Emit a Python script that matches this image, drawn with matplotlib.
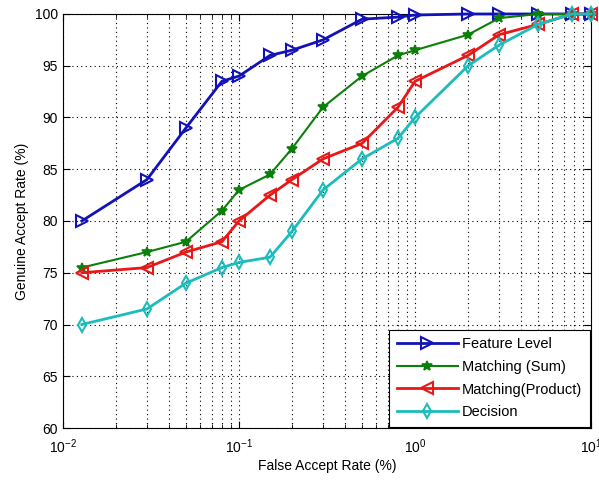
import numpy as np
import matplotlib
matplotlib.use("Agg")
import matplotlib.pyplot as plt
from matplotlib.ticker import LogLocator, FixedLocator, NullFormatter

plt.rcParams['font.family'] = ['Liberation Sans', 'DejaVu Sans']

# False accept rate (%)
far = [0.0128, 0.03, 0.05, 0.08, 0.1, 0.15, 0.2, 0.3, 0.5, 0.8, 1.0, 2, 3, 5, 7.8, 10]

# Genuine accept rate (%)
feature_level = [80, 84, 89, 93.5, 94, 96, 96.5, 97.5, 99.5, 99.7, 99.9, 100, 100, 100, 100, 100]
matching_sum = [75.5, 77, 78, 81, 83, 84.5, 87, 91, 94, 96, 96.5, 98, 99.6, 100, 100, 100]
matching_product = [75, 75.5, 77, 78, 80, 82.5, 84, 86, 87.5, 91, 93.5, 96, 98, 99, 100, 100]
decision = [70, 71.5, 74, 75.5, 76, 76.5, 79, 83, 86, 88, 90, 95, 97, 99, 100, 100]

labels = ['Feature Level', 'Matching (Sum)', 'Matching(Product)', 'Decision']

fig = plt.figure(figsize=(5.99, 4.82), dpi=100)
ax = fig.add_axes([0.105, 0.112, 0.882, 0.859])

ax.plot(far, feature_level, color='#1212b8', lw=2, marker='>', ms=8,
        mfc='none', mew=1.5, label=labels[0], clip_on=False, zorder=5)
ax.plot(far, matching_sum, color='#0a800a', lw=1.5, marker='*', ms=7,
        mew=1.2, label=labels[1], clip_on=False, zorder=5)
ax.plot(far, matching_product, color='#e81818', lw=2, marker='<', ms=8,
        mfc='none', mew=1.5, label=labels[2], clip_on=False, zorder=5)
ax.plot(far, decision, color='#1cbcbc', lw=2, marker='d', ms=7,
        mfc='none', mew=1.5, label=labels[3], clip_on=False, zorder=5)

ax.set_xscale('log')
ax.set_xlim(1e-2, 1e1)
ax.set_ylim(60, 100)
ax.yaxis.set_major_locator(FixedLocator(np.arange(60, 101, 5)))
ax.xaxis.set_major_locator(LogLocator(base=10, numticks=10))
ax.xaxis.set_minor_locator(LogLocator(base=10, subs=np.arange(2, 10), numticks=20))
ax.xaxis.set_minor_formatter(NullFormatter())

ax.grid(True, which='major', color='black', linestyle=(0, (1, 3)), lw=0.8)
ax.grid(True, which='minor', axis='x', color='black', linestyle=(0, (1, 3)), lw=0.8)
ax.tick_params(which='both', direction='in', top=True, right=True, labelsize=10)
ax.tick_params(which='major', length=5)
ax.tick_params(which='minor', length=3)
ax.tick_params(axis='x', which='major', pad=7)

ax.set_xlabel('False Accept Rate (%)', fontsize=10, labelpad=2)
ax.set_ylabel('Genuine Accept Rate (%)', fontsize=10)

leg = ax.legend(loc='lower right', fontsize=10.5, fancybox=False, edgecolor='black',
                framealpha=1, handlelength=4.2, borderaxespad=0.1, labelspacing=0.6,
                handletextpad=0.3, borderpad=0.5)
leg.get_frame().set_linewidth(0.8)
leg.set_zorder(10)

fig.savefig('out.png', dpi=100)
